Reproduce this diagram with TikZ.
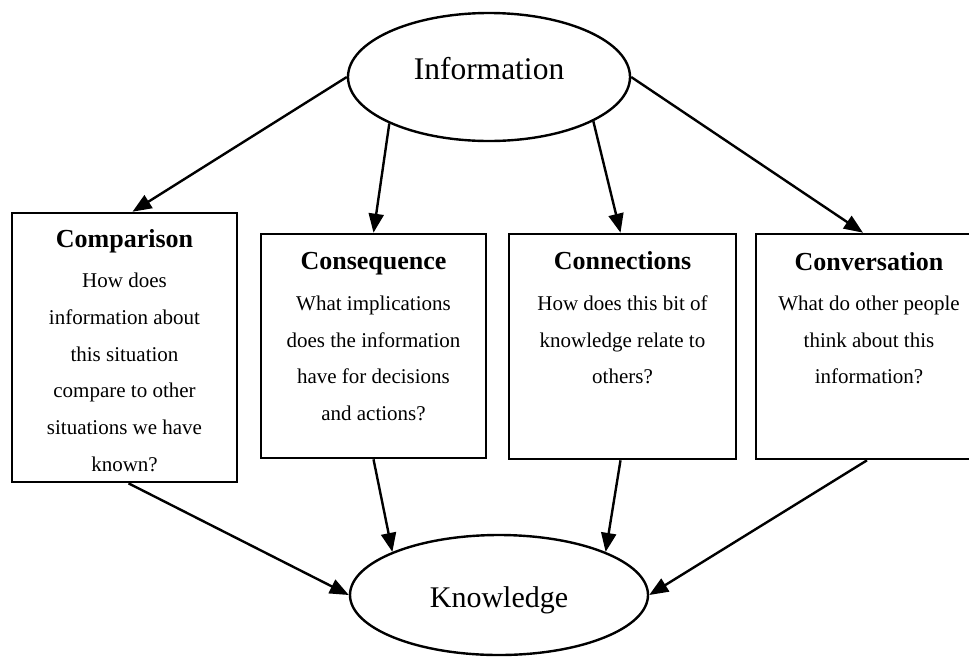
\documentclass[tikz,border=0pt]{standalone}
\usepackage{fontspec}
\setmainfont{Liberation Serif}
\usetikzlibrary{shapes.geometric,arrows.meta}
\begin{document}
\begin{tikzpicture}[x=1pt,y=-1pt,
  box/.style={draw, rectangle, line width=2.6pt, inner sep=0pt},
  oval/.style={draw, ellipse, line width=2.4pt, inner sep=0pt},
  ttl/.style={font=\fontsize{26}{30}\selectfont\bfseries, anchor=base, inner sep=0pt},
  bodytxt/.style={font=\fontsize{21}{36.8}\selectfont, align=center, anchor=north, inner sep=0pt},
  arr/.style={-{Triangle[length=19pt,width=15pt]}, line width=2.4pt}]
\useasboundingbox (0,0) rectangle (969,657);
\clip (0,0) rectangle (969,657);

% ellipses
\node[oval, minimum width=282pt, minimum height=128pt,
      font=\fontsize{31.5}{36}\selectfont, text height=21.5pt, text depth=17pt]
      (info) at (489,77) {Information};
\node[oval, minimum width=298pt, minimum height=120pt,
      font=\fontsize{30}{36}\selectfont, text height=24.6pt, text depth=0pt]
      (know) at (499,595) {Knowledge};

% boxes
\node[box, minimum width=225pt, minimum height=269pt] (comp) at (124.5,347.5) {};
\node[box, minimum width=225pt, minimum height=224pt] (cons) at (373.5,346) {};
\node[box, minimum width=227pt, minimum height=225pt] (conn) at (622.5,346.5) {};
\node[box, minimum width=226pt, minimum height=225pt] (conv) at (869,346.5) {};

% texts
\node[ttl] (compT) at (124.5,247) {Comparison};
\node[bodytxt] (compB) at (124.5,272.3) {\rule{0pt}{15pt}How does\\information about\\this situation\\compare to other\\situations we have\\known?};
\node[ttl] (consT) at (373.5,269.5) {Consequence};
\node[bodytxt] (consB) at (373.5,295) {\rule{0pt}{15pt}What implications\\does the information\\have for decisions\\and actions?};
\node[ttl] (connT) at (622.5,269.5) {Connections};
\node[bodytxt] (connB) at (622.5,295) {\rule{0pt}{15pt}How does this bit of\\knowledge relate to\\others?};
\node[ttl] (convT) at (869,270) {Conversation};
\node[bodytxt] (convB) at (869,295) {\rule{0pt}{15pt}What do other people\\think about this\\information?};

% arrows from Information
\draw[arr] (info.west) -- ([xshift=8pt]comp.north);
\draw[arr] (info.205) -- (cons.north);
\draw[arr] (info.337) -- ([xshift=-2pt]conn.north);
\draw[arr] (info.east) -- ([xshift=-6pt]conv.north);

% arrows to Knowledge
\draw[arr] ([xshift=4pt]comp.south) -- (know.west);
\draw[arr] (cons.south) -- (know.158);
\draw[arr] ([xshift=-2pt]conn.south) -- (know.22.5);
\draw[arr] ([xshift=-2pt]conv.south) -- (know.east);
\end{tikzpicture}
\end{document}
